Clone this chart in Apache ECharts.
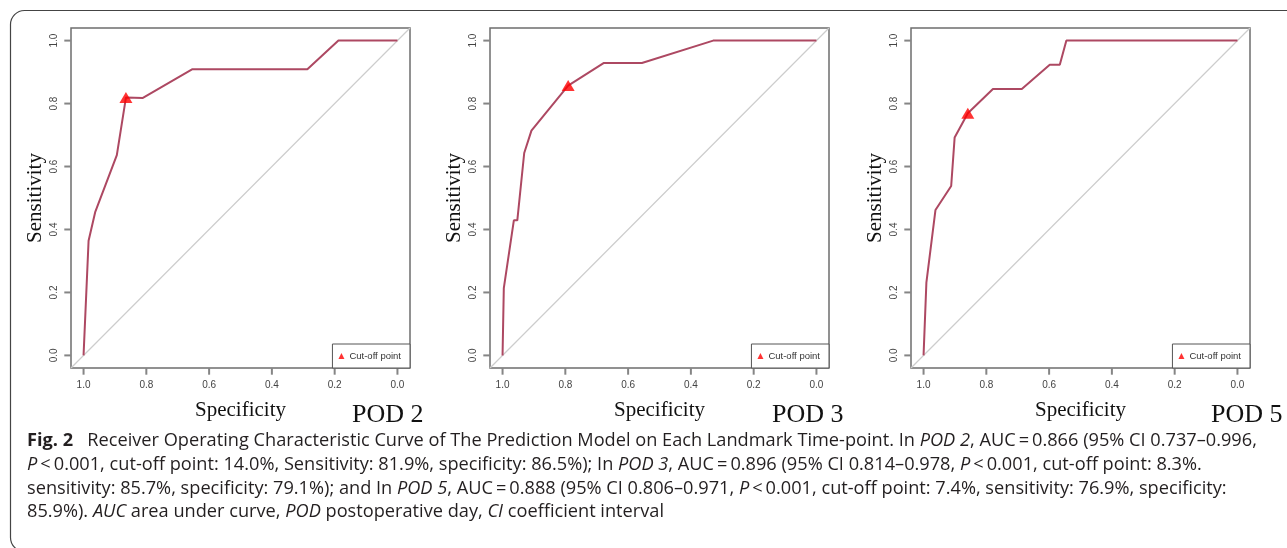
<!DOCTYPE html>
<html>
<head>
<meta charset="utf-8">
<script src="https://cdn.jsdelivr.net/npm/echarts@6/dist/echarts.min.js"></script>
<style>
  html, body { margin: 0; padding: 0; background: #fff; }
  #chart { width: 1287px; height: 548px; }
</style>
</head>
<body>
<div id="chart"></div>
<script>
// ROC curves: specificity (x, reversed) and sensitivity (y)
const pod2Spec = [1, 0.984, 0.963, 0.894, 0.865, 0.811, 0.653, 0.287, 0.188, 0];
const pod2Sens = [0, 0.364, 0.455, 0.636, 0.819, 0.818, 0.909, 0.909, 1, 1];
const pod3Spec = [1, 0.996, 0.964, 0.953, 0.931, 0.908, 0.791, 0.677, 0.556, 0.329, 0];
const pod3Sens = [0, 0.214, 0.429, 0.429, 0.643, 0.714, 0.857, 0.929, 0.929, 1, 1];
const pod5Spec = [1, 0.991, 0.962, 0.912, 0.901, 0.859, 0.779, 0.687, 0.598, 0.566, 0.545, 0];
const pod5Sens = [0, 0.231, 0.462, 0.538, 0.692, 0.769, 0.846, 0.846, 0.923, 0.923, 1, 1];
// cut-off points [specificity, sensitivity]
const cutOffs = [[0.865, 0.819], [0.791, 0.857], [0.859, 0.769]];
const panelNames = ['POD 2', 'POD 3', 'POD 5'];
const tickValues = [0, 0.2, 0.4, 0.6, 0.8, 1.0];
const tickLabels = ['0.0', '0.2', '0.4', '0.6', '0.8', '1.0'];
const captionLines = [
  '{b|Fig. 2}   Receiver Operating Characteristic Curve of The Prediction Model on Each Landmark Time-point. In {i|POD 2}, AUC\u2009=\u20090.866 (95% CI 0.737\u20130.996,',
  '{i|P}\u2009<\u20090.001, cut-off point: 14.0%, Sensitivity: 81.9%, specificity: 86.5%); In {i|POD 3}, AUC\u2009=\u20090.896 (95% CI 0.814\u20130.978, {i|P}\u2009<\u20090.001, cut-off point: 8.3%.',
  'sensitivity: 85.7%, specificity: 79.1%); and In {i|POD 5}, AUC\u2009=\u20090.888 (95% CI 0.806\u20130.971, {i|P}\u2009<\u20090.001, cut-off point: 7.4%, sensitivity: 76.9%, specificity:',
  '85.9%). {i|AUC} area under curve, {i|POD} postoperative day, {i|CI} coefficient interval'
];

const curves = [[pod2Spec, pod2Sens], [pod3Spec, pod3Sens], [pod5Spec, pod5Sens]];
const W = 1287, H = 548;
const axMin = -0.04, axMax = 1.04;
const gridBoxes = [
  { left: 71, top: 28, width: 339, height: 340, podX: 352 },
  { left: 490, top: 28, width: 339, height: 340, podX: 772 },
  { left: 911, top: 28, width: 339, height: 340, podX: 1211 }
];
const boxColor = '#6e6e6e';
const rocColor = '#ad4862';
const serif = '"Liberation Serif", "DejaVu Serif", serif';
const sans = '"Liberation Sans", Arial, sans-serif';
const capFont = '"Open Sans", "Noto Sans", sans-serif';
const capSize = 18.2;
const tickLen = 6;
const tickW = 2;

const tickFmt = v => tickLabels[tickValues.findIndex(t => Math.abs(t - v) < 1e-6)];

const grid = [], xAxis = [], yAxis = [], series = [], legend = [], graphic = [];

gridBoxes.forEach((g, i) => {
  grid.push({
    left: g.left, top: g.top, width: g.width, height: g.height,
    show: true, borderColor: boxColor, borderWidth: 1.5, backgroundColor: 'transparent'
  });
  const axisCommon = {
    gridIndex: i, type: 'value', min: axMin, max: axMax,
    nameLocation: 'middle',
    nameTextStyle: { fontFamily: serif, fontSize: 21, color: '#111' },
    axisLine: { show: false, onZero: false },
    splitLine: { show: false },
    axisTick: { show: false },
    axisLabel: { customValues: tickValues, formatter: tickFmt, margin: 12, fontSize: 10, color: '#444', fontFamily: sans }
  };
  xAxis.push(Object.assign({}, axisCommon, { inverse: true, name: 'Specificity', nameGap: 32 }));
  yAxis.push(Object.assign({}, axisCommon, {
    name: 'Sensitivity', nameGap: 25,
    axisLabel: Object.assign({}, axisCommon.axisLabel, { rotate: 90 })
  }));

  // R-style outward tick marks on the bottom and left edges
  series.push({
    type: 'scatter', xAxisIndex: i, yAxisIndex: i, silent: true, clip: false,
    symbol: 'rect', symbolSize: [tickW, tickLen], symbolOffset: [0, tickLen / 2 + 0.7],
    itemStyle: { color: '#666' },
    data: tickValues.map(t => [t, axMin])
  });
  series.push({
    type: 'scatter', xAxisIndex: i, yAxisIndex: i, silent: true, clip: false,
    symbol: 'rect', symbolSize: [tickLen, tickW], symbolOffset: [-(tickLen / 2 + 0.7), 0],
    itemStyle: { color: '#666' },
    data: tickValues.map(t => [axMax, t])
  });

  series.push({
    type: 'line', xAxisIndex: i, yAxisIndex: i, silent: true, symbol: 'none',
    lineStyle: { color: '#cdcdcd', width: 1.2 },
    data: [[axMax, axMin], [axMin, axMax]]
  });
  const [spec, sens] = curves[i];
  series.push({
    type: 'line', xAxisIndex: i, yAxisIndex: i, symbol: 'none',
    lineStyle: { color: rocColor, width: 2 },
    data: spec.map((s, k) => [s, sens[k]])
  });
  series.push({
    type: 'scatter', name: 'Cut-off point', xAxisIndex: i, yAxisIndex: i,
    symbol: 'triangle', symbolSize: [13, 11], itemStyle: { color: '#ff0000' }, z: 5,
    data: [cutOffs[i]]
  });

  legend.push({
    data: ['Cut-off point'],
    right: W - (g.left + g.width), bottom: H - (g.top + g.height),
    icon: 'triangle', itemWidth: 6, itemHeight: 6,
    padding: [7, 9, 7, 6],
    borderColor: '#555', borderWidth: 1, backgroundColor: '#fff',
    textStyle: { fontFamily: sans, fontSize: 9.5, color: '#333' },
    selectedMode: false
  });

  graphic.push({
    type: 'text', left: g.podX, top: 402,
    style: { text: panelNames[i], fontFamily: serif, fontSize: 26, fill: '#111' }
  });
});

// outer rounded frame
graphic.push({
  type: 'rect', shape: { x: 10.5, y: 10.5, width: 1400, height: 541, r: 14 },
  style: { fill: 'none', stroke: '#444', lineWidth: 1.2 }, silent: true
});

captionLines.forEach((line, k) => {
  graphic.push({
    type: 'text', x: 27, y: 441 + k * 23.7,
    style: {
      text: line, fontFamily: capFont, fontSize: capSize, fill: '#231f20', verticalAlign: 'middle',
      rich: {
        b: { fontFamily: capFont, fontSize: capSize, fontWeight: 'bold', fill: '#231f20' },
        i: { fontFamily: capFont, fontSize: capSize, fontStyle: 'italic', fill: '#231f20' }
      }
    }
  });
});

const chart = echarts.init(document.getElementById('chart'), null, { renderer: 'canvas' });
chart.setOption({
  animation: false,
  backgroundColor: '#fff',
  grid, xAxis, yAxis, series, legend, graphic
});
</script>
</body>
</html>
